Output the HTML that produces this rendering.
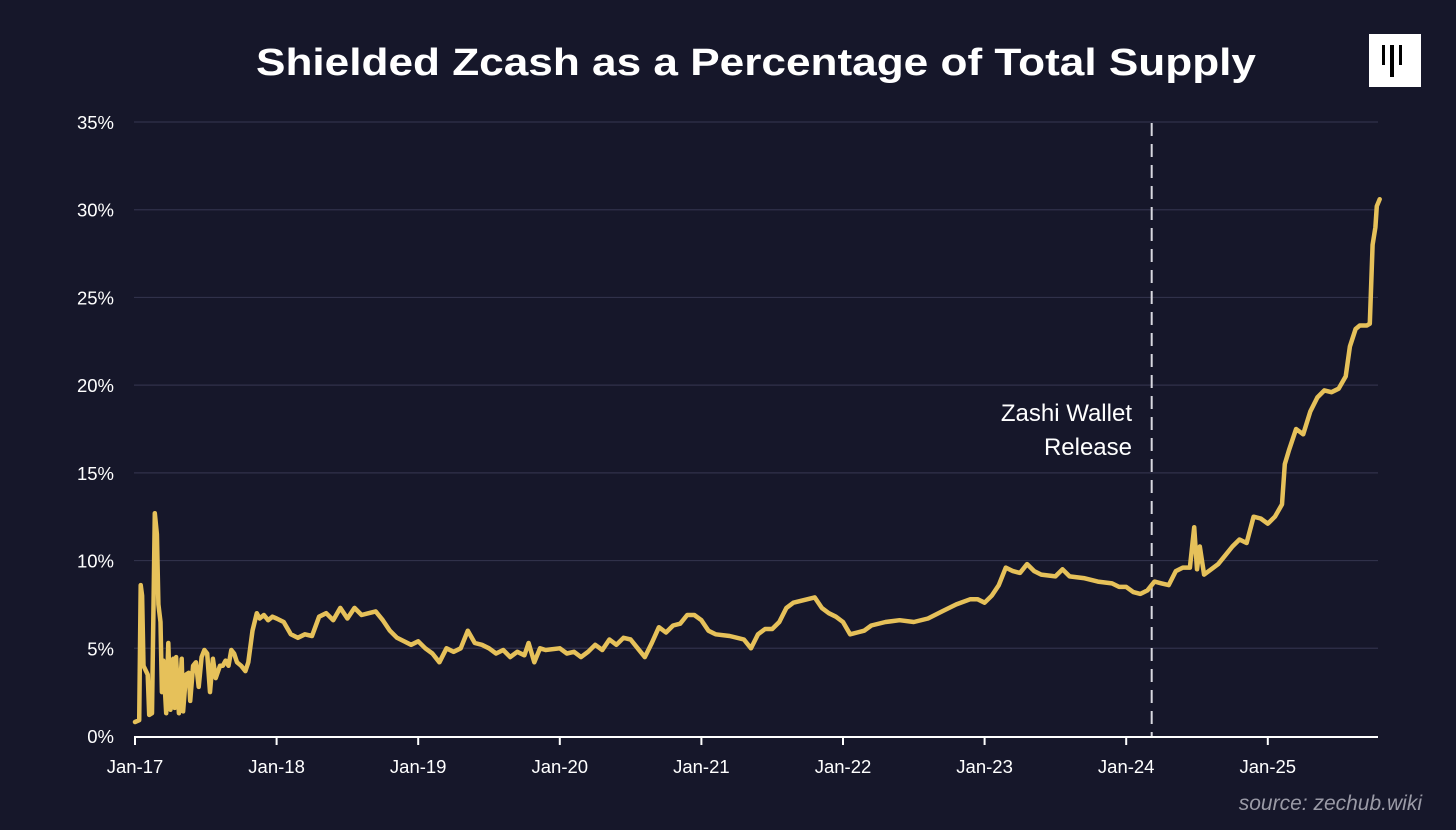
<!DOCTYPE html>
<html><head><meta charset="utf-8"><style>
html,body{margin:0;padding:0;background:#16172a;}
svg{display:block;font-family:"Liberation Sans",sans-serif;}
</style></head><body>
<svg id="chart" width="1456" height="830" viewBox="0 0 1456 830">
<rect width="1456" height="830" fill="#16172a"/>
<text x="756" y="75" text-anchor="middle" font-size="38" font-weight="bold" fill="#fff" textLength="1000" lengthAdjust="spacingAndGlyphs">Shielded Zcash as a Percentage of Total Supply</text>
<g>
<rect x="1369" y="34" width="52" height="53" fill="#fff"/>
<rect x="1382" y="45" width="3" height="20" fill="#000"/>
<rect x="1390" y="45" width="4" height="32" fill="#000"/>
<rect x="1399" y="45" width="3" height="20" fill="#000"/>
</g>
<g id="grid"></g>
<g id="yticks"></g>
<g id="xticks"></g>
<line id="zashi" stroke="#d8d8e0" stroke-width="2" stroke-dasharray="13,8"/>
<text x="1132" y="421" text-anchor="end" font-size="24" fill="#fff">Zashi Wallet</text>
<text x="1132" y="455" text-anchor="end" font-size="24" fill="#fff">Release</text>
<path id="series" fill="none" stroke="#e6c15a" stroke-width="4.5" stroke-linejoin="round" stroke-linecap="round"/>
<text x="1422" y="810" text-anchor="end" font-size="21" font-style="italic" fill="#9a9aa6">source: zechub.wiki</text>
</svg>
<script>
const yTicks=[0,5,10,15,20,25,30,35];
const xTickLabels=["Jan-17","Jan-18","Jan-19","Jan-20","Jan-21","Jan-22","Jan-23","Jan-24","Jan-25"];
const xTickYears=[0,1,2,3,4,5,6,7,8];
const releaseYear=7.18;
const years=[0,0.03,0.04,0.05,0.06,0.09,0.10,0.12,0.14,0.155,0.165,0.18,0.19,0.20,0.22,0.235,0.25,0.27,0.28,0.29,0.31,0.33,0.34,0.36,0.38,0.39,0.41,0.43,0.45,0.47,0.49,0.51,0.53,0.55,0.57,0.60,0.62,0.64,0.66,0.68,0.70,0.72,0.75,0.78,0.80,0.83,0.86,0.88,0.91,0.94,0.97,1.00,1.05,1.10,1.15,1.20,1.25,1.30,1.35,1.40,1.45,1.50,1.55,1.60,1.65,1.70,1.75,1.80,1.85,1.90,1.95,2.00,2.05,2.10,2.15,2.20,2.25,2.30,2.35,2.40,2.45,2.50,2.55,2.60,2.65,2.70,2.75,2.78,2.82,2.86,2.90,3.00,3.05,3.10,3.15,3.20,3.25,3.30,3.35,3.40,3.45,3.50,3.55,3.60,3.65,3.70,3.75,3.80,3.85,3.90,3.95,4.00,4.05,4.10,4.20,4.30,4.35,4.40,4.45,4.50,4.55,4.60,4.65,4.70,4.75,4.80,4.85,4.90,4.95,5.00,5.05,5.10,5.15,5.20,5.30,5.40,5.50,5.60,5.70,5.80,5.90,5.95,6.00,6.05,6.10,6.15,6.20,6.25,6.30,6.35,6.40,6.50,6.55,6.60,6.70,6.80,6.90,6.95,7.00,7.05,7.10,7.15,7.20,7.25,7.30,7.35,7.40,7.45,7.48,7.50,7.52,7.55,7.60,7.65,7.70,7.75,7.80,7.85,7.90,7.95,8.00,8.05,8.10,8.12,8.15,8.20,8.25,8.30,8.35,8.40,8.45,8.50,8.55,8.58,8.62,8.65,8.70,8.72,8.74,8.76,8.77,8.79];
const values=[0.8,0.9,8.6,8.0,4.0,3.5,1.2,1.3,12.7,11.5,7.5,6.5,2.5,4.3,1.3,5.3,1.5,4.4,1.6,4.5,1.3,4.4,1.4,3.5,3.6,2.0,4.0,4.2,2.8,4.5,4.9,4.7,2.5,4.4,3.3,4.0,4.0,4.3,4.0,4.9,4.7,4.2,4.0,3.7,4.2,6.0,7.0,6.7,6.9,6.6,6.8,6.7,6.5,5.8,5.6,5.8,5.7,6.8,7.0,6.6,7.3,6.7,7.3,6.9,7.0,7.1,6.6,6.0,5.6,5.4,5.2,5.4,5.0,4.7,4.2,5.0,4.8,5.0,6.0,5.3,5.2,5.0,4.7,4.9,4.5,4.8,4.6,5.3,4.2,5.0,4.9,5.0,4.7,4.8,4.5,4.8,5.2,4.9,5.5,5.2,5.6,5.5,5.0,4.5,5.3,6.2,5.9,6.3,6.4,6.9,6.9,6.6,6.0,5.8,5.7,5.5,5.0,5.8,6.1,6.1,6.5,7.3,7.6,7.7,7.8,7.9,7.3,7.0,6.8,6.5,5.8,5.9,6.0,6.3,6.5,6.6,6.5,6.7,7.1,7.5,7.8,7.8,7.6,8.0,8.6,9.6,9.4,9.3,9.8,9.4,9.2,9.1,9.5,9.1,9.0,8.8,8.7,8.5,8.5,8.2,8.1,8.3,8.8,8.7,8.6,9.4,9.6,9.6,11.9,9.5,10.8,9.2,9.5,9.8,10.3,10.8,11.2,11.0,12.5,12.4,12.1,12.5,13.2,15.5,16.3,17.5,17.2,18.5,19.3,19.7,19.6,19.8,20.5,22.2,23.2,23.4,23.4,23.5,28.0,29.0,30.2,30.6];
const X=t=>135+141.6*t;
const Y=v=>736-v*(614/35);
const NS="http://www.w3.org/2000/svg";
const grid=document.getElementById('grid'),yt=document.getElementById('yticks'),xt=document.getElementById('xticks');
yTicks.forEach(v=>{
  if(v>0){const l=document.createElementNS(NS,'line');
  l.setAttribute('x1',134);l.setAttribute('x2',1378);l.setAttribute('y1',Y(v));l.setAttribute('y2',Y(v));
  l.setAttribute('stroke','#30314a');l.setAttribute('stroke-width','1.2');
  
  
  grid.appendChild(l);}
  const t=document.createElementNS(NS,'text');
  t.setAttribute('x',114);t.setAttribute('y',Y(v)+7);t.setAttribute('text-anchor','end');
  t.setAttribute('font-size','18.5');t.setAttribute('fill','#fff');t.textContent=v+'%';
  
  
  yt.appendChild(t);
});
const ax=document.createElementNS(NS,'line');
ax.setAttribute('x1',134);ax.setAttribute('x2',1378);ax.setAttribute('y1',737);ax.setAttribute('y2',737);
ax.setAttribute('stroke','#fff');ax.setAttribute('stroke-width','2');


xt.appendChild(ax);
xTickYears.forEach((yr,i)=>{
  const l=document.createElementNS(NS,'line');
  l.setAttribute('x1',X(yr));l.setAttribute('x2',X(yr));l.setAttribute('y1',737);l.setAttribute('y2',745);
  l.setAttribute('stroke','#fff');l.setAttribute('stroke-width','2');
  
  
  xt.appendChild(l);
  const t=document.createElementNS(NS,'text');
  t.setAttribute('x',X(yr));t.setAttribute('y',773);t.setAttribute('text-anchor','middle');
  t.setAttribute('font-size','18.5');t.setAttribute('fill','#fff');t.textContent=xTickLabels[i];
  
  
  xt.appendChild(t);
});
const z=document.getElementById('zashi');
z.setAttribute('x1',X(releaseYear));z.setAttribute('x2',X(releaseYear));z.setAttribute('y1',123);z.setAttribute('y2',736);
document.getElementById('series').setAttribute('d',years.map((t,i)=>(i?'L':'M')+X(t).toFixed(1)+','+Y(values[i]).toFixed(1)).join(''));
</script>
</body></html>
